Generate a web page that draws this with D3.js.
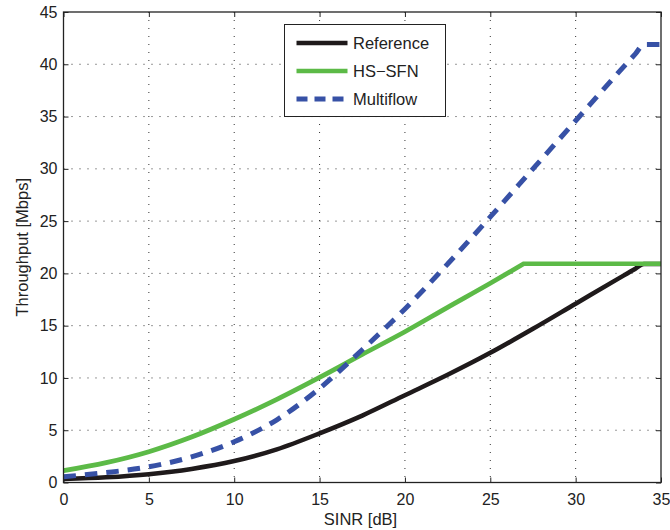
<!DOCTYPE html>
<html lang="en">
<head>
	<meta charset="UTF-8">
	<title>Throughput vs SINR</title>
<script src="https://d3js.org/d3.v7.min.js"></script>
<style>
body{margin:0; background:#fff;}
	svg text{font-family: "Liberation Sans", Arial, Helvetica, sans-serif;}
</style>
</head>
<body>
	<div class="chart"></div>
<script>
// data
var sinr = [0, 2.5, 5, 7.5, 10, 12.5, 15, 17.5, 20, 22.5, 25, 27.5, 30, 32.5, 33.5, 34, 35];
var reference = [0.33, 0.5, 0.8, 1.3, 2.05, 3.17, 4.7, 6.4, 8.35, 10.3, 12.4, 14.7, 17.1, 19.5, 20.45, 20.9, 20.9];

// HS-SFN: curved part up to the kink, then flat
var sfnSinr = [0, 2.5, 5, 7.5, 10, 12.5, 15, 17.5, 20, 22.5, 25, 26.95];
var hsSfn = [1.13, 1.9, 2.95, 4.35, 6.05, 7.95, 10.05, 12.25, 14.42, 16.75, 19.05, 20.92];
var sfnFlat = [[26.95, 20.92], [35, 20.92]];

var multiflow = [0.55, 0.95, 1.5, 2.45, 3.9, 6.0, 9.0, 12.7, 16.6, 20.9, 25.4, 30.0, 34.6, 39.2, 41.0, 41.9, 41.9];

var xTicks = [0, 5, 10, 15, 20, 25, 30, 35];
var yTicks = [0, 5, 10, 15, 20, 25, 30, 35, 40, 45];
var seriesNames = ["Reference", "HS\u2212SFN", "Multiflow"];

var drawChart = function(selector){
	var w = 670;
	var h = 530;
	var margin = {top: 12, right: 9, bottom: 47.5, left: 63.5};
	var iw = w - margin.left - margin.right;
	var ih = h - margin.top - margin.bottom;

	var svg = d3.select(selector).append("svg")
				.attr("width", w)
				.attr("height", h);

	var g = svg.append("g")
				.attr("transform", "translate(" + margin.left + "," + margin.top + ")");

	var x = d3.scaleLinear().domain([0, 35]).range([0, iw]);
	var y = d3.scaleLinear().domain([0, 45]).range([ih, 0]);

	//grid
	g.append("g").selectAll("line")
		.data(xTicks.slice(1, -1))
		.enter()
		.append("line")
		.attr("x1", function(d){ return x(d); })
		.attr("x2", function(d){ return x(d); })
		.attr("y1", 0)
		.attr("y2", ih)
		.attr("stroke", "#333")
		.attr("stroke-width", 1)
		.attr("stroke-dasharray", "1,7");

	g.append("g").selectAll("line")
		.data(yTicks.slice(1, -1))
		.enter()
		.append("line")
		.attr("x1", 0)
		.attr("x2", iw)
		.attr("y1", function(d){ return y(d); })
		.attr("y2", function(d){ return y(d); })
		.attr("stroke", "#333")
		.attr("stroke-width", 1)
		.attr("stroke-dasharray", "1,7");

	//axes, ticks inside on all four sides
	var tk = 5;
	var bottom = g.append("g")
		.attr("transform", "translate(0," + ih + ")")
		.call(d3.axisBottom(x).tickValues(xTicks).tickSizeInner(-tk).tickSizeOuter(0).tickPadding(11));
	var top = g.append("g")
		.call(d3.axisTop(x).tickValues(xTicks).tickSizeInner(-tk).tickSizeOuter(0).tickFormat(""));
	var left = g.append("g")
		.call(d3.axisLeft(y).tickValues(yTicks).tickSizeInner(-tk).tickSizeOuter(0).tickPadding(6));
	var right = g.append("g")
		.attr("transform", "translate(" + iw + ",0)")
		.call(d3.axisRight(y).tickValues(yTicks).tickSizeInner(-tk).tickSizeOuter(0).tickFormat(""));

	[bottom, top, left, right].forEach(function(a){
		a.select(".domain").remove();
		a.selectAll("line").attr("stroke", "#222");
		a.selectAll("text").attr("font-size", "16px").attr("fill", "#222")
			.attr("font-family", "'Liberation Sans', Arial, sans-serif");
	});

	//curves
	var line = d3.line()
		.x(function(d){ return x(d[0]); })
		.y(function(d){ return y(d[1]); })
		.curve(d3.curveMonotoneX);
	var straight = d3.line()
		.x(function(d){ return x(d[0]); })
		.y(function(d){ return y(d[1]); });

	var refPts = sinr.map(function(s, i){ return [s, reference[i]]; });
	var sfnPts = sfnSinr.map(function(s, i){ return [s, hsSfn[i]]; });
	var mfPts = sinr.map(function(s, i){ return [s, multiflow[i]]; });

	g.append("clipPath").attr("id", "clip")
		.append("rect").attr("width", iw).attr("height", ih + 3).attr("y", -3);

	var curves = g.append("g").attr("clip-path", "url(#clip)");

	curves.append("path")
		.attr("d", line(refPts))
		.attr("fill", "none")
		.attr("stroke", "#1f1a1b")
		.attr("stroke-width", 4.5);

	// join the curved part and the flat part into one path so the kink stays sharp
	curves.append("path")
		.attr("d", line(sfnPts) + straight(sfnFlat).replace(/^M/, "L"))
		.attr("fill", "none")
		.attr("stroke", "#5cba47")
		.attr("stroke-width", 4.7);

	curves.append("path")
		.attr("d", line(mfPts))
		.attr("fill", "none")
		.attr("stroke", "#3751a6")
		.attr("stroke-width", 5)
		.attr("stroke-dasharray", "12.5,9");

	//frame
	g.append("rect")
		.attr("width", iw)
		.attr("height", ih)
		.attr("fill", "none")
		.attr("stroke", "#222")
		.attr("stroke-width", 1.3);

	//axis labels
	svg.append("text")
		.attr("x", 360.5)
		.attr("y", 525)
		.attr("text-anchor", "middle")
		.attr("font-size", "16.5px")
		.attr("fill", "#222")
		.text("SINR [dB]");

	svg.append("text")
		.attr("transform", "translate(28," + (margin.top + ih / 2) + ") rotate(-90)")
		.attr("text-anchor", "middle")
		.attr("font-size", "16.5px")
		.attr("fill", "#222")
		.text("Throughput [Mbps]");

	//legend
	var lg = svg.append("g").attr("transform", "translate(284.5,24.5)");
	lg.append("rect")
		.attr("width", 161)
		.attr("height", 92)
		.attr("fill", "#fff")
		.attr("stroke", "#222")
		.attr("stroke-width", 1);

	var styles = [
		{c: "#1f1a1b", dash: null, sw: 4.5},
		{c: "#5cba47", dash: null, sw: 4.7},
		{c: "#3751a6", dash: "11,7", sw: 5}
	];
	var rows = lg.selectAll("g.row")
		.data(seriesNames)
		.enter()
		.append("g")
		.attr("class", "row")
		.attr("transform", function(d, i){ return "translate(0," + (18.5 + i * 28) + ")"; });

	rows.append("line")
		.attr("x1", 12)
		.attr("x2", 63)
		.attr("stroke", function(d, i){ return styles[i].c; })
		.attr("stroke-width", function(d, i){ return styles[i].sw; })
		.attr("stroke-dasharray", function(d, i){ return styles[i].dash; });

	rows.append("text")
		.attr("x", 68.5)
		.attr("y", 6)
		.attr("font-size", "16.5px")
		.attr("fill", "#222")
		.text(function(d){ return d; });

	return svg;
}

drawChart(".chart");
</script>
</body>
</html>
